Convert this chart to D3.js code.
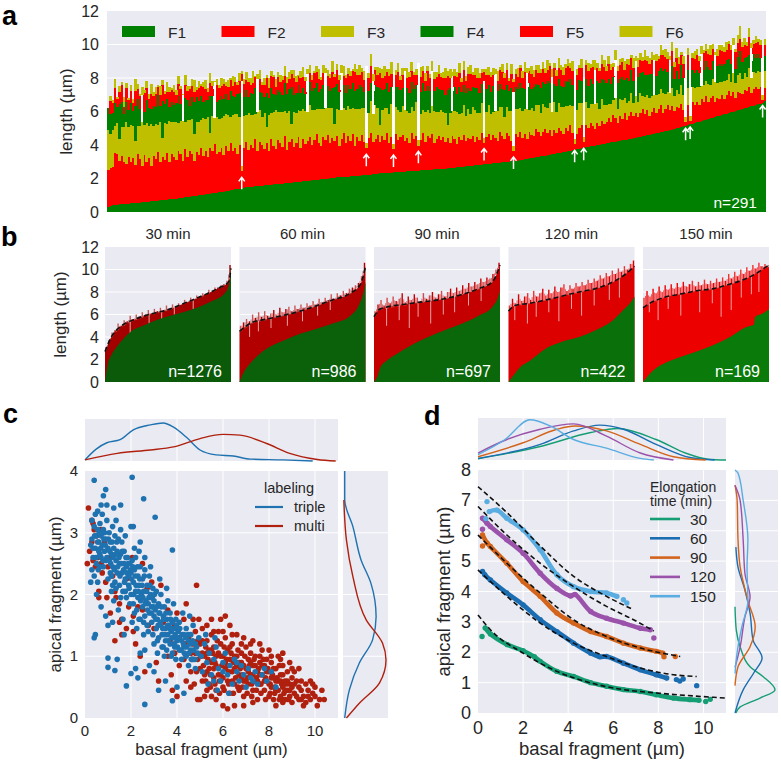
<!DOCTYPE html>
<html><head><meta charset="utf-8">
<script src="https://cdnjs.cloudflare.com/ajax/libs/d3/7.8.5/d3.min.js"></script>
<style>body{margin:0;background:#fff}svg{display:block}text{font-family:"Liberation Sans",Arial,sans-serif;fill:#262626}</style>
</head><body><svg id="fig" width="781" height="760"></svg>
<script>
// ---------- Panel a : fragment lengths (µm) per cell, 291 cells ----------
const aF1=[0.3,0.35,0.4,0.42,0.44,0.45,0.46,0.47,0.48,0.5,0.51,0.52,0.53,0.54,0.55,0.57,0.59,0.6,0.62,0.64,0.65,0.66,0.68,0.7,0.71,0.72,0.74,0.76,0.78,0.79,0.8,0.82,0.84,0.86,0.88,0.9,0.92,0.94,0.96,0.98,1.0,1.02,1.04,1.06,1.08,1.1,1.12,1.14,1.16,1.18,1.2,1.22,1.25,1.27,1.3,1.32,1.35,1.37,1.4,1.42,1.45,1.47,1.49,1.5,1.52,1.53,1.55,1.56,1.58,1.59,1.6,1.62,1.63,1.65,1.66,1.68,1.69,1.7,1.72,1.73,1.75,1.76,1.78,1.79,1.8,1.82,1.83,1.85,1.86,1.88,1.9,1.91,1.93,1.94,1.96,1.97,1.99,2.0,2.02,2.03,2.05,2.06,2.07,2.08,2.09,2.1,2.11,2.12,2.13,2.14,2.15,2.16,2.18,2.19,2.2,2.22,2.23,2.25,2.26,2.28,2.3,2.31,2.32,2.33,2.34,2.35,2.36,2.37,2.38,2.39,2.4,2.41,2.42,2.43,2.44,2.45,2.46,2.47,2.48,2.49,2.5,2.51,2.52,2.53,2.54,2.55,2.56,2.57,2.58,2.59,2.6,2.61,2.63,2.64,2.66,2.67,2.69,2.7,2.72,2.73,2.75,2.76,2.78,2.79,2.81,2.82,2.84,2.85,2.87,2.88,2.9,2.92,2.93,2.95,2.96,2.98,2.99,3.01,3.02,3.04,3.05,3.07,3.1,3.12,3.15,3.17,3.2,3.22,3.25,3.27,3.3,3.32,3.35,3.37,3.4,3.42,3.45,3.47,3.5,3.52,3.55,3.58,3.61,3.64,3.67,3.7,3.73,3.76,3.79,3.82,3.85,3.87,3.9,3.92,3.95,3.97,4.0,4.02,4.05,4.07,4.1,4.12,4.15,4.17,4.2,4.22,4.25,4.27,4.3,4.32,4.35,4.38,4.41,4.44,4.47,4.5,4.53,4.56,4.59,4.62,4.65,4.68,4.71,4.74,4.77,4.8,4.83,4.86,4.89,4.92,4.95,4.99,5.03,5.07,5.11,5.15,5.19,5.23,5.27,5.31,5.35,5.39,5.43,5.47,5.51,5.55,5.59,5.63,5.67,5.71,5.75,5.79,5.83,5.87,5.91,5.95,5.99,6.03,6.07,6.11,6.15,6.19,6.23,6.27,6.31,6.35,6.39,6.43,6.47,6.51,6.6];
const aF2=[2.2,2.3,2.3,3.1,3.0,2.6,2.9,2.5,2.4,2.8,2.5,2.7,2.3,2.9,2.6,2.2,2.8,2.4,2.6,2.1,2.7,2.5,2.9,2.3,2.6,2.4,2.8,2.2,2.7,2.5,2.3,2.8,2.6,2.2,2.9,2.4,2.7,2.5,2.1,2.6,2.4,2.8,2.3,2.6,2.2,2.7,2.5,2.9,2.3,2.4,2.6,2.2,2.7,2.4,2.8,2.3,2.5,2.1,2.6,1.0,2.4,2.7,2.2,2.5,2.3,2.8,2.1,2.6,2.4,2.2,2.5,2.0,2.7,2.3,2.1,2.6,2.4,2.2,2.8,2.0,2.4,2.6,2.1,2.3,2.7,2.0,2.5,2.2,2.4,2.6,2.1,2.4,2.7,2.2,2.0,2.5,2.3,2.6,2.1,2.4,2.2,2.5,1.9,2.3,2.6,2.0,2.4,2.1,2.5,1.8,2.3,2.1,2.4,2.0,1.6,2.2,2.5,1.9,2.1,2.3,1.9,2.2,2.0,2.4,1.8,2.1,1.4,2.3,1.9,2.1,2.2,1.8,2.0,1.7,2.3,1.9,2.1,1.5,1.8,2.2,1.7,2.0,1.9,2.1,1.6,1.8,2.0,1.7,1.9,1.6,1.8,1.5,1.9,1.7,1.4,1.8,1.6,1.9,1.5,1.7,1.6,1.8,1.4,1.7,1.5,1.9,1.3,1.6,1.8,1.4,1.7,1.5,1.3,1.8,1.6,1.4,1.7,1.5,1.2,0.6,1.6,1.4,1.7,1.3,1.5,1.2,1.6,1.4,1.3,1.7,1.5,1.2,1.4,1.6,1.3,1.5,1.1,1.4,1.2,1.5,1.3,1.1,1.4,1.2,1.5,1.0,0.3,0.9,1.2,1.4,0.3,1.3,1.1,1.4,1.2,1.0,1.3,1.1,1.4,1.2,1.3,1.5,1.2,1.6,1.4,1.1,1.5,1.3,1.6,1.2,1.4,1.6,1.3,1.5,1.2,1.4,1.6,1.3,1.5,1.1,1.3,1.5,1.2,1.4,1.6,1.1,1.3,1.5,1.2,1.4,1.1,1.3,1.2,1.4,1.0,0.2,1.2,0.2,1.3,1.1,1.2,1.0,1.3,1.1,1.4,1.0,1.2,1.3,0.9,1.1,1.0,1.2,0.9,1.1,1.3,1.0,1.2,0.8,1.1,1.0,0.9,1.1,1.0,1.2,0.8,1.0,1.1,0.9,1.0,0.2,0.8];
const aF3=[2.4,2.0,2.2,1.6,1.9,1.3,1.7,2.1,2.5,1.8,2.2,1.9,1.4,1.7,2.0,2.6,1.8,2.3,1.9,2.5,1.8,2.1,1.6,2.4,1.1,2.2,1.7,2.5,1.9,2.1,2.3,1.7,2.0,2.4,1.6,2.2,1.9,2.1,1.6,1.8,2.0,1.7,2.3,1.9,2.4,0.9,2.1,1.6,2.2,2.0,1.8,2.3,1.9,2.1,1.6,2.2,2.0,2.4,1.7,0.3,1.9,1.6,2.2,1.8,2.0,1.5,2.3,1.9,1.7,2.1,1.0,2.2,1.6,2.0,2.3,1.7,1.9,2.1,1.5,2.2,1.9,0.9,2.1,1.8,1.6,2.2,1.8,2.0,1.7,1.9,2.1,1.8,1.5,2.0,2.2,1.7,1.9,1.6,2.1,1.8,1.0,1.6,2.1,1.7,1.5,2.0,1.8,1.9,1.6,2.2,1.7,1.9,1.6,2.0,0.3,1.5,1.9,1.7,2.0,1.6,1.0,1.6,1.9,1.5,1.7,2.0,0.3,1.6,1.8,1.5,1.7,1.9,1.6,1.8,1.5,1.7,2.0,0.3,1.6,1.4,1.8,1.6,1.5,1.7,1.9,1.6,1.4,1.8,1.5,1.7,0.8,1.8,1.5,1.7,1.9,1.4,1.6,1.8,1.5,1.7,1.5,1.7,1.9,1.4,1.6,1.8,0.3,1.5,1.7,1.6,1.4,1.6,1.8,1.5,1.7,1.3,1.6,1.5,1.8,0.3,1.5,1.7,1.4,1.6,1.5,1.8,1.3,1.6,1.5,1.4,1.6,1.4,1.7,1.3,1.5,1.6,1.4,1.7,1.3,1.5,1.4,1.6,1.3,1.5,1.2,1.6,0.3,1.4,1.5,1.3,0.3,1.4,1.2,1.1,1.3,1.5,1.2,1.0,1.3,1.1,1.0,0.8,1.1,0.9,1.2,0.8,1.0,1.1,0.9,1.0,0.9,1.1,0.8,1.0,0.9,1.2,0.8,1.0,0.9,1.1,1.0,0.8,1.1,0.9,1.0,1.2,0.9,0.8,1.0,1.1,0.9,1.0,0.8,1.1,0.9,0.3,1.0,0.3,0.9,1.0,0.9,1.1,0.8,1.0,0.9,1.1,0.8,1.0,1.2,0.9,1.0,0.8,1.1,0.9,1.0,0.8,1.1,0.9,1.0,1.2,0.9,1.0,0.8,1.1,0.9,1.0,0.8,1.1,0.9,0.3,1.0];
const aF4=[1.3,1.2,1.0,1.4,0.9,2.1,1.5,0.8,1.2,1.0,1.3,0.9,2.1,1.6,1.0,1.2,0.8,1.4,1.1,0.9,1.2,1.0,1.8,0.9,2.2,1.1,1.5,0.8,1.2,1.0,1.1,1.6,1.0,0.9,1.4,1.2,0.8,1.3,1.9,1.5,1.2,1.4,0.9,1.1,1.0,2.2,1.2,1.7,0.9,1.1,1.3,1.0,1.2,0.9,1.5,1.1,1.0,1.2,1.4,5.1,1.1,1.5,1.0,1.3,1.2,1.6,0.9,1.1,1.4,1.0,2.0,1.0,1.5,1.1,0.9,1.3,1.2,1.0,1.7,1.1,1.3,2.2,1.0,1.2,1.5,1.1,1.3,1.0,1.2,1.4,1.1,1.3,1.6,1.0,1.2,1.4,1.1,1.3,1.0,1.2,2.2,1.5,1.1,1.2,1.4,1.0,1.3,1.2,1.5,1.1,1.2,1.4,1.3,1.0,4.6,1.3,1.1,1.4,1.2,1.3,2.2,1.2,1.1,1.5,1.3,1.0,4.3,1.2,1.4,1.3,1.1,1.3,1.4,1.2,1.5,1.3,1.0,4.6,1.3,1.6,1.2,1.4,1.3,1.1,1.2,1.5,1.4,1.2,1.3,1.1,2.1,1.5,1.2,1.4,1.1,1.6,1.3,1.2,1.4,1.3,1.4,1.2,1.3,1.5,1.2,1.1,3.4,1.4,1.2,1.3,1.5,1.3,1.2,1.4,1.1,1.6,1.3,1.2,1.4,3.2,1.3,1.2,1.5,1.4,1.2,1.3,1.6,1.1,1.4,1.3,1.2,1.5,1.3,1.4,1.6,1.2,1.3,1.1,1.5,1.4,1.3,1.2,1.5,1.4,1.6,1.3,4.1,1.2,1.4,1.3,3.6,1.4,1.3,1.5,1.2,1.4,1.3,1.6,1.2,1.5,1.3,1.5,1.2,1.4,1.3,1.6,1.2,1.4,1.1,1.5,1.2,1.4,1.3,1.1,1.5,1.2,1.4,1.3,1.2,1.4,1.3,1.5,1.1,1.4,1.2,1.3,1.5,1.2,1.4,1.3,1.0,1.1,0.9,1.2,1.0,3.8,1.1,3.5,1.0,0.9,1.0,0.8,1.1,0.9,1.2,1.0,0.9,1.1,0.8,1.0,1.1,0.9,1.0,1.2,0.9,1.1,1.0,0.8,1.1,1.3,1.0,0.9,1.2,0.8,1.0,1.1,0.9,1.0,0.8,2.2,0.9];
const aF5=[0,0.8,0.6,0.9,0.5,0.7,1.0,0.4,0.8,0.6,0.7,0.5,0.9,0.6,0.8,0.4,1.1,0.7,0.5,0.9,0.6,0.8,0.5,0.7,1.0,0.6,0.4,0.9,0.7,0.8,0.5,0.7,0.9,0.6,0.8,0.5,1.0,0.7,0.6,0.4,0.8,0.6,0.9,0.7,0.5,0.8,0.6,0.4,1.0,0.7,0.6,0.9,0.5,0.8,0.7,0.6,0.9,0.5,0.7,0.4,0.8,0.6,0.9,0.5,0.7,0.6,1.1,0.8,0.5,0.7,0.9,0.6,0.7,1.0,0.5,0.8,0.6,0.9,0.4,0.7,0.6,0.8,1.0,0.7,0.5,0.9,0.6,0.8,1.1,0.5,0.7,0.9,0.6,0.8,0.5,0.7,1.0,0.6,0.8,0.9,0.6,0.8,0.7,1.0,0.5,0.9,0.6,0.8,0.7,1.1,0.8,0.6,0.9,0.7,0.0,0.8,1.0,0.6,0.9,0.7,0.9,0.7,0.8,0.6,1.0,0.8,0.0,0.7,0.9,0.6,0.8,1.0,0.6,0.9,0.7,0.8,0.6,0.0,0.9,0.7,0.6,0.9,0.8,1.0,0.7,0.6,0.9,0.8,0.7,1.0,0.8,0.6,0.9,0.7,1.0,0.8,0.6,0.9,0.7,0.8,1.0,0.7,0.8,0.6,0.9,0.7,0.5,0.8,0.6,0.9,0.7,0.9,0.6,0.8,1.0,0.7,0.9,0.6,0.8,0.6,0.8,0.7,0.9,0.6,1.0,0.8,0.7,0.9,0.6,0.8,0.7,0.9,0.8,0.6,0.7,1.0,0.8,0.9,0.6,0.7,0.9,0.7,0.8,1.0,0.6,0.8,0.0,0.9,0.7,0.8,0.0,0.8,0.9,0.7,1.0,0.6,0.8,0.7,0.9,0.8,0.7,0.9,0.8,0.6,1.0,0.7,0.8,0.9,0.6,0.8,0.9,0.7,0.8,1.0,0.6,0.8,0.7,0.9,0.8,0.6,0.8,0.6,0.9,0.7,0.8,1.0,0.7,0.8,0.6,0.9,0.7,0.8,0.9,0.6,0.8,0.0,0.9,0.0,0.7,0.8,0.9,0.7,0.8,1.0,0.6,0.8,0.9,0.7,0.8,0.6,0.8,0.9,0.7,0.6,0.9,0.8,0.7,1.0,0.8,0.7,0.9,0.8,0.7,1.1,0.8,0.6,0.9,0.7,0.8,0.0,0.7];
const aF6=[0,0.3,0.2,0.5,0.1,0.4,0.2,0.6,0.3,0.1,0.4,0.2,0.7,0.3,0.1,0.5,0.2,0.4,0.3,0.6,0.2,0.4,0.1,0.5,0.3,0.2,0.6,0.3,0.1,0.4,0.3,0.5,0.2,0.1,0.6,0.3,0.2,0.4,0.7,0.2,0.4,0.1,0.3,0.5,0.2,0.6,0.3,0.1,0.4,0.2,0.5,0.3,0.2,0.4,0.1,0.6,0.3,0.2,0.5,0.2,0.3,0.5,0.2,0.4,0.7,0.1,0.3,0.5,0.2,0.4,0.2,0.6,0.3,0.1,0.5,0.3,0.4,0.2,0.6,0.3,0.4,0.2,0.5,0.3,0.1,0.4,0.6,0.2,0.3,0.5,0.3,0.1,0.4,0.6,0.2,0.5,0.3,0.4,0.2,0.7,0.2,0.4,0.3,0.5,0.6,0.2,0.4,0.3,0.1,0.5,0.4,0.6,0.2,0.5,0.0,0.3,0.7,0.4,0.2,0.5,0.3,0.5,0.6,0.2,0.4,0.7,0.0,0.3,0.5,0.2,0.4,0.2,0.6,0.3,0.5,0.2,0.4,0.0,0.6,0.3,0.5,0.3,0.2,0.6,0.4,0.3,0.5,0.2,0.4,0.6,0.3,0.5,0.2,0.4,0.3,0.6,0.2,0.5,0.3,0.4,0.5,0.2,0.4,0.6,0.3,0.2,0.2,0.4,0.5,0.3,0.4,0.3,0.6,0.2,0.5,0.3,0.4,0.2,0.6,0.2,0.3,0.5,0.2,0.4,0.6,0.3,0.2,0.5,0.4,0.3,0.5,0.2,0.4,0.3,0.6,0.2,0.5,0.3,0.4,0.6,0.3,0.5,0.2,0.4,0.3,0.6,0.0,0.4,0.2,0.5,0.0,0.3,0.5,0.2,0.4,0.6,0.3,0.2,0.5,0.4,0.3,0.5,0.4,0.2,0.6,0.3,0.4,0.2,0.5,0.3,0.4,0.2,0.6,0.3,0.5,0.4,0.2,0.6,0.3,0.4,0.5,0.3,0.4,0.2,0.6,0.3,0.5,0.4,0.2,0.5,0.3,0.6,0.4,0.2,0.5,0.0,0.4,0.0,0.3,0.5,0.4,0.3,0.5,0.2,0.4,0.3,0.6,0.3,0.2,0.4,0.3,0.4,0.3,0.5,0.2,0.3,0.4,0.2,0.5,0.8,0.3,0.4,0.2,0.5,0.3,0.2,0.4,0.2,0.3,0.0,0.3];
const aArrowCells=[59,114,126,137,166,179,206,210,255,257,289];
const aBlankCells=[15,33,47,66,88,96,103,117,131,143,152,171,185,196,215,224,233,241,248,262,268,276,284];
const aNames=["F1","F2","F3","F4","F5","F6"];
const aTicks=[0,2,4,6,8,10,12];

// ---------- Panel b : sorted cells per elongation time ----------
const bTitles=["30 min","60 min","90 min","120 min","150 min"];
const bCounts=[1276,986,697,422,169];
const bGreen30=[[0,0],[0.02,1.5],[0.05,2.4],[0.09,3.1],[0.15,3.9],[0.22,4.6],[0.3,5.0],[0.36,5.3],[0.49,5.8],[0.62,6.2],[0.75,6.7],[0.85,7.2],[0.89,7.4],[0.95,7.9],[0.97,8.2],[0.99,9.0],[1,10.2]];
const bGreen60=[[0,0],[0.03,0.8],[0.08,1.6],[0.15,2.4],[0.22,3.0],[0.35,3.7],[0.48,4.3],[0.6,4.7],[0.74,5.2],[0.88,5.9],[0.95,6.9],[0.98,7.8],[1,8.9]];
const bGreen90=[[0,0],[0.03,0.6],[0.05,1.3],[0.1,1.9],[0.18,2.5],[0.3,3.3],[0.43,4.0],[0.56,4.6],[0.7,5.2],[0.83,5.9],[0.94,6.7],[0.98,7.4],[1,8.1]];
const bGreen120=[[0,0],[0.04,0.6],[0.09,1.3],[0.17,1.9],[0.3,3.0],[0.43,3.6],[0.56,4.0],[0.69,4.6],[0.83,5.5],[0.91,6.4],[0.97,7.1],[1,7.6]];
const bGreen150=[[0,0],[0.05,0.7],[0.11,1.3],[0.16,1.6],[0.29,2.2],[0.42,2.7],[0.56,3.3],[0.69,4.0],[0.82,4.9],[0.88,5.1],[0.89,5.8],[0.95,6.1],[1,6.5]];
const bRed30=[3.1,3.7,4.4,4.6,5.2,5.0,5.5,5.4,5.9,5.6,6.0,5.8,6.2,6.0,6.4,6.1,6.5,6.3,6.6,6.4,6.8,6.5,6.9,6.7,7.0,6.9,7.3,7.1,7.5,7.3,7.7,7.6,7.9,7.8,8.2,8.0,8.4,8.4,8.6,8.7,9.0,10.4];
const bRed60=[5.0,5.3,5.6,5.4,6.0,5.7,6.2,5.8,6.3,5.9,6.1,6.4,6.0,6.6,6.2,6.5,6.7,6.3,6.8,6.5,6.9,6.6,7.0,6.8,7.2,6.9,7.4,7.1,7.5,7.3,7.8,7.4,7.9,7.7,8.1,7.9,8.3,8.4,8.6,8.8,9.4,10.6];
const bRed90=[6.3,6.9,7.3,6.8,7.5,7.0,7.6,7.2,7.4,7.9,7.1,7.6,7.3,7.8,7.5,7.2,7.9,7.4,7.7,8.0,7.5,7.8,8.1,7.6,8.0,8.3,7.9,8.4,8.1,8.6,8.3,8.8,8.5,8.9,8.7,9.2,8.9,9.3,9.2,9.6,10.0,10.6];
const bRed120=[6.8,7.4,7.0,7.8,7.2,7.6,7.9,7.3,8.1,7.6,7.9,8.3,7.7,8.2,7.9,8.5,8.0,8.4,8.7,8.1,8.6,8.3,8.8,8.5,8.9,8.6,9.1,8.8,9.2,9.0,9.5,9.2,9.7,9.4,9.9,9.6,10.1,9.8,10.3,10.0,10.5,10.8];
const bRed150=[7.5,8.1,7.6,8.3,7.9,8.5,8.0,8.6,8.2,8.7,8.3,8.8,8.4,8.9,8.5,8.7,9.0,8.5,8.9,8.6,9.1,8.7,9.0,8.8,9.2,8.9,9.3,9.0,9.6,9.2,9.8,9.4,10.0,9.6,10.2,9.9,10.4,10.1,10.6,10.3,10.5,10.2];
const bMean30=[[0,2.7],[0.05,4.0],[0.12,4.9],[0.22,5.5],[0.35,6.0],[0.49,6.4],[0.65,7.1],[0.81,7.85],[0.91,8.4],[0.98,8.9],[1,10.1]];
const bMean60=[[0,4.5],[0.1,5.3],[0.22,5.6],[0.48,6.3],[0.74,7.3],[0.88,7.9],[0.96,8.7],[1,10.3]];
const bMean90=[[0,5.8],[0.05,6.5],[0.3,7.0],[0.56,7.4],[0.83,8.3],[0.94,8.9],[1,10.4]];
const bMean120=[[0,6.3],[0.05,6.8],[0.17,7.0],[0.3,7.3],[0.56,8.0],[0.69,8.3],[0.83,8.9],[0.93,9.6],[1,10.3]];
const bMean150=[[0,6.6],[0.04,6.9],[0.16,7.5],[0.29,7.8],[0.42,8.1],[0.56,8.3],[0.69,8.7],[0.82,9.2],[0.92,9.8],[1,10.4]];
const bShort30=[[0.2,4.2],[0.35,5.2],[0.45,5.3],[0.55,6.0],[0.7,6.5]];
const bShort60=[[0.08,4.0],[0.15,4.5],[0.25,4.8],[0.38,5.0],[0.5,5.4],[0.62,5.9],[0.72,6.4]];
const bShort90=[[0.1,5.0],[0.2,5.5],[0.28,4.8],[0.35,5.8],[0.45,5.2],[0.55,6.0],[0.64,6.2],[0.75,6.8],[0.85,7.2]];
const bShort120=[[0.05,5.5],[0.15,5.2],[0.22,5.8],[0.32,6.2],[0.4,5.4],[0.5,6.5],[0.58,5.9],[0.68,6.8],[0.8,7.3],[0.88,7.5]];
const bShort150=[[0.05,6.2],[0.12,5.5],[0.2,6.5],[0.3,5.9],[0.45,6.2],[0.55,7.0],[0.62,5.8],[0.7,6.4],[0.78,7.5],[0.86,7.8],[0.92,8.0]];

// ---------- Panel c : basal vs apical fragment ----------
const cTriple=[[0.3,2.9],[0.35,2.6],[0.4,3.1],[0.45,2.75],[0.5,2.95],[0.5,2.5],[0.55,3.05],[0.6,2.7],[0.6,2.85],[0.65,3.15],[0.7,2.6],[0.7,2.95],[0.75,2.8],[0.8,2.45],[0.8,3.05],[0.85,2.7],[0.9,2.9],[0.9,2.55],[0.95,3.2],[1.0,2.75],[0.4,2.3],[0.3,2.4],[0.55,2.2],[0.65,2.45],[0.25,2.8],[0.45,3.3],[0.75,3.3],[0.85,3.0],
[1.05,2.55],[1.1,2.85],[1.1,2.35],[1.15,2.65],[1.2,3.1],[1.2,2.45],[1.25,2.75],[1.3,2.2],[1.3,2.95],[1.35,2.55],[1.4,2.35],[1.4,2.7],[1.45,2.9],[1.5,2.5],[1.5,2.15],[1.55,2.65],[1.6,2.35],[1.6,2.85],[1.65,2.05],[1.7,2.5],[1.7,2.7],[1.75,2.25],[1.8,2.45],[1.8,1.95],[1.85,2.6],[1.9,2.3],[1.9,2.15],[1.95,2.5],[2.0,2.0],[2.0,2.35],[1.15,2.05],[1.25,1.9],[1.45,1.75],[1.35,3.2],[1.55,3.05],[1.05,3.0],[1.75,2.95],[1.65,1.6],
[2.05,2.55],[2.1,2.2],[2.1,1.85],[2.15,2.4],[2.2,2.05],[2.2,2.6],[2.25,1.75],[2.3,2.3],[2.3,1.95],[2.35,2.15],[2.4,2.45],[2.4,1.6],[2.45,2.0],[2.5,2.25],[2.5,1.8],[2.55,2.05],[2.6,2.4],[2.6,1.65],[2.65,1.9],[2.7,2.15],[2.7,1.5],[2.75,1.85],[2.8,2.3],[2.8,1.7],[2.85,2.0],[2.9,1.55],[2.9,1.8],[2.95,2.1],[3.0,1.65],[3.0,1.9],[2.15,2.75],[2.35,2.7],[2.6,2.6],[2.85,2.45],[2.25,1.45],[2.55,1.35],[2.05,1.55],
[3.05,1.75],[3.1,1.45],[3.1,2.05],[3.15,1.6],[3.2,1.85],[3.2,1.3],[3.25,1.7],[3.3,1.5],[3.3,2.0],[3.35,1.35],[3.4,1.65],[3.4,1.15],[3.45,1.8],[3.5,1.45],[3.5,1.25],[3.55,1.6],[3.6,1.35],[3.6,1.9],[3.65,1.5],[3.7,1.2],[3.7,1.7],[3.75,1.4],[3.8,1.55],[3.8,1.05],[3.85,1.3],[3.9,1.45],[3.9,1.15],[3.95,1.6],[4.0,1.25],[3.25,2.25],[3.55,2.1],[3.85,1.85],[3.45,1.0],[3.15,1.05],
[4.05,1.4],[4.1,1.1],[4.1,1.55],[4.2,1.25],[4.2,0.95],[4.3,1.35],[4.3,1.15],[4.4,1.45],[4.4,1.0],[4.5,1.25],[4.5,0.85],[4.6,1.35],[4.6,1.1],[4.7,0.95],[4.7,1.5],[4.8,1.2],[4.8,0.8],[4.9,1.05],[4.95,1.3],[4.25,1.7],[4.55,1.65],
[5.05,1.0],[5.1,0.75],[5.2,1.2],[5.3,0.9],[5.4,1.05],[5.5,0.7],[5.6,0.95],[5.7,1.15],[5.8,0.8],[5.9,0.6],[6.0,0.9],[6.1,1.05],[6.2,0.7],[6.3,0.85],[6.4,0.55],[6.5,0.95],[6.6,0.75],[6.7,0.6],[6.8,0.85],[6.9,0.7],[7.0,0.5],[7.1,0.8],[7.2,0.65],[7.4,0.75],[7.5,0.55],[7.7,0.7],[7.9,0.6],[8.1,0.75],[8.3,0.5],[5.35,0.55],[5.75,0.45],[6.25,0.4],[5.25,1.35],[5.65,1.3],
[0.4,3.85],[0.9,3.7],[0.8,3.6],[0.7,3.45],[2.05,3.9],[2.55,3.55],[1.55,3.45],[3.05,3.25],[2.0,3.1],[2.1,3.1],[3.8,2.72],[2.4,2.85],[0.45,1.35],[0.4,1.3],[1.0,0.97],[1.0,0.82],[1.4,0.95],[1.3,0.77],[1.8,0.52],[2.6,0.22],[3.8,0.28],[2.3,0.65],[2.0,0.72],[2.2,0.8],[3.0,0.75],[3.2,0.45],[2.4,1.05],[1.7,1.35],[1.2,1.55],[0.7,1.8],[0.5,2.0],[1.0,1.5],[2.8,0.85],[3.5,0.6],[4.0,0.5],[4.3,0.4],[3.0,1.2],[2.6,1.1],[0.25,2.2],[0.9,1.65],
[0.55,2.85],[0.65,2.65],[0.72,3.0],[0.78,2.55],[0.88,2.8],[0.95,2.6],[1.02,2.9],[1.08,2.7],[1.12,2.5],[1.18,2.85],[1.22,2.6],[1.28,2.4],[1.32,2.65],[1.38,2.85],[1.42,2.45],[1.48,2.6],[1.52,2.3],[1.58,2.5],[1.62,2.7],[1.68,2.4],[1.72,2.2],[1.78,2.6],[1.82,2.35],[1.88,2.5],[1.92,2.1],[1.98,2.4],[2.02,2.25],[2.08,2.45],[2.12,2.0],[2.18,2.3],[2.22,2.15],[2.28,2.45],[2.32,2.05],[2.38,2.25],[2.42,1.9],[2.48,2.15],[2.52,1.95],[2.58,2.3],[2.62,1.85],[2.68,2.05],[2.72,1.75],[2.78,1.95],[2.82,2.15],[2.88,1.7],[2.92,1.95],[2.98,1.8],[3.02,2.0],[3.08,1.6],[3.12,1.8],[3.18,1.5],[3.22,1.7],[3.28,1.55],[3.32,1.8],[3.38,1.45],[3.42,1.6],[3.48,1.35],[3.52,1.7],[3.58,1.5],[3.62,1.25],[3.68,1.45],[3.72,1.6],[3.78,1.3],[3.82,1.45],[3.88,1.2],[3.92,1.35],[3.98,1.5],[4.02,1.15],[4.08,1.3],[4.12,1.45],[4.18,1.1],[4.22,1.35],[4.28,1.2],[4.32,1.05],[4.38,1.3],[4.42,1.15],[4.48,1.35],[4.52,1.05],[4.58,1.2],[4.62,0.95],[4.68,1.25],[4.72,1.1],[4.78,0.95],[4.85,1.15],[0.35,2.75],[0.42,2.95],[0.48,2.6],[0.58,2.4],[0.62,3.0],[0.68,2.75],[0.82,2.9],[1.15,2.3],[1.35,2.1],[1.55,1.95],[1.75,2.05],[1.95,1.85],[2.15,1.7],[2.35,1.6],[2.55,1.55],[2.75,1.4],[2.95,1.35],[3.15,1.25],[3.35,1.15],[3.55,1.1],[3.75,1.0],[3.95,0.95],[1.0,2.25],[1.2,2.15],[0.3,3.2],[0.55,3.35],[0.95,3.45],[1.25,3.4],[5.6,0.6],[6.0,0.75],[6.6,0.9],[7.3,0.6],[7.8,0.8]];
const cMulti=[[0.15,3.4],[0.3,3.2],[0.35,3.15],[0.1,2.5],[0.2,2.7],[0.3,2.85],[0.35,2.55],[0.45,2.45],[0.5,2.95],[0.55,2.6],[0.7,2.5],[0.7,3.05],[0.75,2.35],[0.9,2.2],[0.6,1.95],[0.95,1.95],[0.4,3.05],[0.85,2.85],[1.0,2.45],[1.2,2.3],[1.3,2.05],[1.35,1.95],[1.5,1.85],[1.5,1.55],[1.6,1.6],[1.8,2.25],[1.9,1.8],[2.05,2.6],[2.1,1.65],[2.3,1.8],[2.5,2.5],[2.5,1.75],[2.7,2.1],[2.75,1.5],[2.9,2.2],[3.0,1.45],[3.3,2.15],[3.4,1.55],[3.6,1.75],[3.7,1.25],[3.9,1.05],[4.1,1.3],[4.3,1.6],[4.35,1.2],[4.4,1.85],[4.6,1.05],[4.8,1.4],[4.85,2.15],[4.9,0.95],[1.1,1.7],[1.6,1.35],[1.8,1.45],[2.2,1.2],[2.4,1.0],[2.6,0.75],[3.1,0.9],[3.2,0.6],[3.6,1.0],[3.75,0.7],[2.1,1.4],[1.3,1.25],[0.6,2.05],[1.1,2.6],[2.9,1.95],[3.9,1.5],[4.0,1.7],
[5.0,1.2],[5.0,0.8],[5.1,1.45],[5.1,0.6],[5.2,1.0],[5.2,0.35],[5.3,1.25],[5.3,0.75],[5.4,0.55],[5.4,1.1],[5.5,0.9],[5.5,1.35],[5.6,0.65],[5.6,1.15],[5.7,0.45],[5.7,0.85],[5.8,1.05],[5.8,1.4],[5.9,0.7],[5.9,1.2],[6.0,0.5],[6.0,1.0],[6.1,0.8],[6.1,1.3],[6.2,0.6],[6.2,1.1],[6.3,0.95],[6.3,0.4],[6.4,0.75],[6.4,1.2],[6.5,0.55],[6.5,1.0],[6.6,0.85],[6.6,1.35],[6.7,0.45],[6.7,0.7],[6.8,1.05],[6.8,0.9],[6.9,0.6],[6.9,0.35],[7.0,0.8],[7.0,1.15],[7.1,0.55],[7.1,0.95],[7.2,0.7],[7.2,1.05],[7.3,0.45],[7.3,0.85],[7.4,0.6],[7.4,1.0],[7.5,0.75],[7.5,0.3],[7.6,0.9],[7.6,0.55],[7.7,0.7],[7.7,1.1],[7.8,0.45],[7.8,0.85],[7.9,0.6],[7.9,0.95],[8.0,0.35],[8.0,0.75],[8.1,0.5],[8.1,0.9],[8.2,0.65],[8.2,0.3],[8.3,0.8],[8.3,0.45],[8.4,0.6],[8.4,1.0],[8.5,0.35],[8.5,0.7],[8.6,0.5],[8.6,0.85],[8.7,0.3],[8.7,0.6],[8.8,0.45],[8.8,0.75],[8.9,0.35],[8.9,0.55],[9.0,0.5],[9.0,0.25],[9.1,0.4],[9.2,0.6],[9.3,0.3],[9.4,0.45],[9.5,0.35],[9.6,0.25],[9.7,0.45],[9.8,0.3],[10.1,0.2],[10.0,0.5],[10.3,0.45],[9.9,0.55],[9.5,0.2],
[5.05,1.0],[5.15,0.85],[5.25,1.15],[5.35,0.95],[5.45,0.7],[5.55,1.05],[5.65,0.9],[5.75,1.25],[5.85,0.6],[5.95,0.85],[6.05,1.15],[6.15,0.95],[6.25,0.75],[6.35,1.05],[6.45,0.9],[6.55,0.65],[6.65,1.1],[6.75,0.8],[6.85,0.5],[6.95,1.0],[7.05,0.65],[7.15,0.85],[7.25,0.55],[7.35,0.95],[7.45,0.65],[7.55,0.8],[7.65,0.4],[7.75,0.95],[7.85,0.65],[7.95,0.8],[8.05,0.55],[8.15,0.7],[8.25,0.5],[8.35,0.65],[8.45,0.85],[8.55,0.55],[8.65,0.4],[8.75,0.55],[4.5,1.3],[4.6,0.75],[4.7,1.6],[4.75,0.55],[4.8,1.05],[4.95,1.6],[5.5,1.6],[5.9,1.6],[6.3,1.5],[6.1,1.65],[5.3,1.5],[6.9,1.3],[7.3,1.25],[7.6,1.2],[8.0,1.1],[8.5,0.95],[8.9,0.9],[9.1,0.75],[5.0,0.3],[5.7,0.3],[6.0,0.2],[6.2,0.15],[6.5,0.2],[6.9,0.2],[7.3,0.25],[8.3,0.2],[8.6,0.25],[4.9,0.3],[4.6,0.5],[5.3,0.45],[5.5,0.35],[9.3,0.8],[9.6,0.55],[10.2,0.3],[4.1,0.85],[4.3,0.95],[4.4,0.6],[3.8,0.45],[4.0,0.35],
[5.1,1.05],[5.2,0.7],[5.3,1.05],[5.4,0.8],[5.5,1.1],[5.6,0.8],[5.7,1.0],[5.8,0.7],[5.9,1.0],[6.0,0.65],[6.1,0.9],[6.2,0.85],[6.3,1.15],[6.4,0.6],[6.5,0.8],[6.6,1.0],[6.7,0.9],[6.8,0.65],[6.9,0.85],[7.0,0.6],[7.1,0.75],[7.2,0.9],[7.3,0.7],[7.4,0.85],[7.5,0.6],[7.6,0.7],[7.7,0.85],[7.8,0.6],[7.9,0.75],[8.0,0.55],[8.1,0.65],[8.2,0.8],[8.3,0.6],[8.4,0.45],[8.5,0.6],[8.6,0.7],[8.7,0.45],[8.8,0.6],[8.9,0.45],[9.0,0.65],[9.1,0.55],[9.2,0.35],[9.3,0.5],[9.4,0.3],[9.7,0.35],[9.9,0.4],[5.25,0.6],[5.45,0.5],[5.65,0.55],[5.85,0.4],[6.05,0.45],[6.25,0.55],[6.45,0.4],[6.65,0.5],[6.85,0.7],[7.05,0.4],[7.25,0.35],[7.45,0.45],[7.65,0.55],[7.85,0.3],[8.05,0.4],[8.25,0.4],[8.45,0.3],[8.65,0.3],[8.85,0.3],[4.7,1.2],[4.9,1.25],[5.1,1.25],[4.65,0.95],[4.85,0.75],[5.6,1.4],[6.0,1.4],[6.4,1.35],[6.8,1.2],[7.2,1.2],[7.6,1.0],[8.1,1.0],[8.6,1.05],[9.0,0.8],[9.4,0.6],[9.8,0.6],[10.0,0.35],[10.4,0.3]];
const cTopTriple=[[0,0.03],[0.5,0.32],[0.95,0.48],[1.53,0.56],[2.1,0.82],[2.84,0.95],[3.4,1.0],[3.85,0.89],[4.4,0.63],[5.0,0.29],[5.7,0.16],[6.45,0.13],[7.2,0.05],[8.6,0.03],[9.9,0]];
const cTopMulti=[[0,0.03],[1.4,0.2],[2.84,0.29],[3.85,0.37],[5.0,0.59],[6.0,0.7],[6.74,0.68],[7.9,0.46],[8.9,0.2],[10.1,0.04],[10.9,0]];
const cSideTriple=[[0,0.04],[0.46,0.15],[0.89,0.38],[1.27,0.69],[1.64,0.77],[2.18,0.65],[2.56,0.42],[3.1,0.23],[3.53,0.04],[4.0,0.04]];
const cSideMulti=[[0,0.08],[0.24,0.38],[0.57,0.85],[0.94,1.0],[1.21,0.92],[1.59,0.54],[2.29,0.23],[2.88,0.08],[3.53,0.02]];
const cLabels=["triple","multi"];

// ---------- Panel d : apical vs basal per elongation time ----------
const dTimes=["30","60","90","120","150"];
const dLine30=[[0.32,2.8],[0.55,2.6],[1.3,2.25],[2.0,2.05],[2.5,1.85],[2.76,1.7],[3.5,1.37],[4.24,1.2],[5.0,1.0],[5.7,0.88],[6.45,0.77],[7.2,0.71],[7.9,0.6],[8.67,0.49],[9.4,0.44],[9.8,0.42]];
const dLine60=[[0.2,4.66],[0.3,4.55],[0.55,4.38],[1.28,3.95],[2.0,3.56],[2.76,3.07],[3.5,2.68],[4.24,2.3],[5.0,1.97],[5.4,1.85],[5.7,1.86],[6.45,1.64],[7.2,1.42],[7.9,1.26],[8.37,1.15]];
const dLine90=[[0.2,5.86],[0.4,5.6],[0.55,5.48],[1.28,4.93],[2.0,4.33],[2.76,3.84],[3.5,3.29],[4.24,2.96],[5.0,2.68],[5.7,2.52],[6.45,2.3],[7.2,2.14],[7.9,2.03],[8.2,1.97]];
const dLine120=[[0.2,6.41],[0.4,6.25],[0.55,6.14],[1.28,5.7],[2.0,5.26],[2.76,4.6],[3.5,4.1],[4.1,3.85],[4.3,3.9],[5.0,3.34],[5.7,3.12],[6.45,2.96],[7.2,2.79],[7.64,2.74]];
const dLine150=[[0.5,6.63],[0.84,6.68],[1.28,6.41],[2.0,6.03],[2.76,5.37],[3.5,4.55],[4.24,4.16],[5.0,4.0],[5.7,3.95],[6.16,3.84]];
const dOut30=[[0.18,2.52],[10.1,0.38],[10.3,0.45]];
const dOut60=[[8.8,1.1],[8.95,1.05],[9.1,1.12],[9.7,0.9]];
const dOut90=[[0.2,5.5],[8.25,1.85],[8.75,1.86]];
const dOut120=[[0.2,6.05],[7.8,2.47]];
const dOut150=[[0.4,6.96],[0.35,6.4],[6.45,3.73],[6.6,3.62]];
const dFit30=[[0,3.23],[0.55,2.74],[2.0,1.97],[3.5,1.37],[5,0.99],[6.45,0.77],[7.9,0.66],[11,0.49]];
const dFit60=[[0,4.71],[1.28,3.84],[2.76,2.96],[4.24,2.3],[5.7,1.86],[7.2,1.48],[8.67,1.26],[9.7,1.2]];
const dFit90=[[0,5.86],[1.28,4.93],[2.76,3.95],[4.24,3.07],[5.7,2.52],[7.2,2.14],[8.97,1.86]];
const dFit120=[[0,6.8],[1.28,5.86],[2.76,4.93],[4.24,4.16],[5.7,3.51],[6.9,3.07],[7.8,2.7]];
const dFit150=[[0,7.45],[1.28,6.6],[2.76,5.5],[4.24,4.5],[5.7,3.84],[6.9,3.4]];
const dTop30=[[0,0.03],[2.76,0.33],[5.0,0.67],[6.2,0.77],[7.9,0.5],[9.2,0.17],[10.2,0.02],[11,0]];
const dTop60=[[0,0.04],[2.76,0.38],[4.24,0.71],[5.4,0.85],[6.45,0.75],[7.9,0.38],[9.4,0.06],[10.5,0]];
const dTop90=[[0,0.08],[2.0,0.42],[3.5,0.75],[4.3,0.83],[5.7,0.71],[7.2,0.38],[8.67,0.08],[10.1,0]];
const dTop120=[[0,0.17],[1.28,0.5],[2.76,0.75],[4.24,0.88],[5.7,0.58],[7.2,0.17],[8.67,0]];
const dTop150=[[0,0.13],[1.2,0.5],[2.3,0.98],[3.2,0.83],[4.24,0.5],[5.7,0.29],[7.2,0.04],[7.8,0]];
const dSide30=[[0,0.02],[0.2,0.12],[0.49,0.58],[0.76,0.93],[1.2,0.65],[1.52,0.35],[2.18,0.12],[2.73,0.03],[3.5,0]];
const dSide60=[[0,0],[0.76,0.19],[1.35,0.45],[1.81,0.63],[2.4,0.42],[3.29,0.35],[4.05,0.23],[4.8,0.07],[5.46,0.02]];
const dSide90=[[0.9,0],[1.52,0.07],[2.18,0.35],[2.84,0.47],[3.7,0.3],[4.8,0.12],[5.7,0.07],[7.0,0.05],[7.5,0]];
const dSide120=[[1.5,0],[2.18,0.12],[3.16,0.23],[3.82,0.35],[4.6,0.23],[5.7,0.19],[7.0,0.12],[7.5,0]];
const dSide150=[[1.3,0],[2.0,0.05],[2.84,0.16],[3.7,0.3],[4.8,0.28],[5.7,0.3],[7.0,0.19],[7.9,0.07],[8,0]];

// ====================== drawing ======================
const svg=d3.select("#fig");
const BG="#eaeaf2";
function bg(x0,y0,x1,y1){svg.append("rect").attr("x",x0).attr("y",y0).attr("width",x1-x0).attr("height",y1-y0).attr("fill",BG);}
function hgrid(y,vals,x0,x1){vals.forEach(v=>svg.append("line").attr("x1",x0).attr("x2",x1).attr("y1",y(v)).attr("y2",y(v)).attr("stroke","#fff").attr("stroke-width",1));}
function vgrid(x,vals,y0,y1){vals.forEach(v=>svg.append("line").attr("y1",y0).attr("y2",y1).attr("x1",x(v)).attr("x2",x(v)).attr("stroke","#fff").attr("stroke-width",1));}
function txt(x,y,s,size,anchor,extra){const t=svg.append("text").attr("x",x).attr("y",y).attr("font-size",size).attr("text-anchor",anchor||"start").text(s);if(extra)extra(t);return t;}
function letter(x,y,s){txt(x,y,s,27,"start",t=>t.attr("font-weight","bold").style("fill","#000"));}

// ---- Panel a ----
const aX=d3.scaleBand().domain(d3.range(aF1.length)).range([107,766]);
const aY=d3.scaleLinear().domain([0,12]).range([212,11]);
bg(107,11,766,212);
hgrid(aY,[2,4,6,8,10],107,766);
const aRows=aF1.map((v,i)=>({F1:v,F2:aF2[i],F3:aF3[i],F4:aF4[i],F5:aF5[i],F6:aF6[i]}));
const aStack=d3.stack().keys(aNames)(aRows);
const aCols=["#008000","#ff0000","#bfbf00","#008000","#ff0000","#bfbf00"];
const blank=new Set(aArrowCells.map(i=>i+":3").concat(aBlankCells.map(i=>i+":3"),aBlankCells.map(i=>i+":4")));
const gA=svg.append("g").attr("shape-rendering","crispEdges");
aStack.forEach((layer,li)=>{
  gA.selectAll(null).data(layer).join("rect")
    .attr("x",(d,i)=>aX(i)).attr("width",aX.bandwidth()+0.3)
    .attr("y",d=>aY(d[1])).attr("height",d=>Math.max(0,aY(d[0])-aY(d[1])))
    .attr("fill",(d,i)=>blank.has(i+":"+li)?"#ffffff":aCols[li]);
});
aArrowCells.forEach(i=>{
  const x=aX(i)+aX.bandwidth()/2, yt=aY(aF1[i]+aF2[i]-0.35);
  svg.append("path").attr("d",`M${x},${yt+12}L${x},${yt}M${x-3},${yt+4}L${x},${yt}L${x+3},${yt+4}`)
    .attr("stroke","#fff").attr("stroke-width",1.5).attr("fill","none");
});
aTicks.forEach(v=>txt(99,aY(v)+5.5,v,16,"end"));
txt(0,0,"length (µm)",17,"middle",t=>t.attr("transform",`translate(72,${aY(6)}) rotate(-90)`));
aNames.forEach((nm,k)=>{
  const x=122+k*99.5;
  svg.append("rect").attr("x",x).attr("y",26).attr("width",33).attr("height",11).attr("fill",aCols[k]);
  txt(x+46,37.5,nm,15.5,"start");
});
txt(757,208,"n="+aF1.length,15.5,"end",t=>t.style("fill","#fff"));
letter(2,25,"a");

// ---- Panel b ----
const bY=d3.scaleLinear().domain([0,12]).range([382,247]);
const bGreens=[bGreen30,bGreen60,bGreen90,bGreen120,bGreen150];
const bReds=[bRed30,bRed60,bRed90,bRed120,bRed150];
const bMeans=[bMean30,bMean60,bMean90,bMean120,bMean150];
const bShorts=[bShort30,bShort60,bShort90,bShort120,bShort150];
const bGreenCol=["#0a5a0a","#0a610a","#0a680a","#0a700a","#0a7a0a"];
const bRedCol=["#a50000","#b20000","#c40000","#dc0000","#ec0000"];
const bFuzzCol=["#c85858","#cc5656","#d44a4a","#ee3434","#f52e2e"];
bTitles.forEach((title,p)=>{
  const x0=105+p*134.5, x1=x0+126;
  bg(x0,247,x1,382);
  hgrid(bY,[2,4,6,8,10],x0,x1);
  const reds=bReds[p], mean=bMeans[p];
  const bx=d3.scaleLinear().domain([0,1]).range([x0,x1]);
  const meanAt=d3.scaleLinear().domain(mean.map(d=>d[0])).range(mean.map(d=>d[1]));
  const pos=d3.scalePoint().domain(d3.range(reds.length)).range([x0+1,x1-1]);
  svg.append("path").datum(mean).attr("fill",bRedCol[p])
    .attr("d",d3.area().x(d=>bx(d[0])).y0(382).y1(d=>bY(d[1])).curve(d3.curveMonotoneX));
  reds.forEach((v,k)=>{
    const f=(pos(k)-x0)/126, m=meanAt(f);
    svg.append("line").attr("x1",pos(k)).attr("x2",pos(k)).attr("y1",bY(Math.max(v,m))).attr("y2",bY(Math.min(v,m))+(v>m?1:0))
      .attr("stroke",v>m?(k%2?bRedCol[p]:bFuzzCol[p]):"#f0c4c4").attr("stroke-width",1.4);
    if(k<reds.length-1){const xm=(pos(k)+pos(k+1))/2, vm=(v+reds[k+1])/2-0.15, mm=meanAt((xm-x0)/126);
      if(vm>mm) svg.append("line").attr("x1",xm).attr("x2",xm).attr("y1",bY(vm)).attr("y2",bY(mm)+1).attr("stroke",bFuzzCol[p]).attr("stroke-width",0.8);}
  });
  bShorts[p].forEach(([f,v])=>{
    svg.append("line").attr("x1",bx(f)).attr("x2",bx(f)).attr("y1",bY(v)).attr("y2",bY(meanAt(f)))
      .attr("stroke","#f5caca").attr("stroke-width",0.9).attr("opacity",0.9);
  });
  svg.append("path").datum(bGreens[p]).attr("fill",bGreenCol[p])
    .attr("d",d3.area().x(d=>bx(d[0])).y0(382).y1(d=>bY(d[1])).curve(d3.curveMonotoneX));
  svg.append("path").datum(mean).attr("fill","none").attr("stroke","#111").attr("stroke-width",1.6).attr("stroke-dasharray","5,3")
    .attr("d",d3.line().x(d=>bx(d[0])).y(d=>bY(d[1])).curve(d3.curveMonotoneX));
  txt((x0+x1)/2,239,title,15,"middle");
  txt(x1-9,377,"n="+bCounts[p],16,"end",t=>t.style("fill","#fff"));
});
aTicks.forEach(v=>txt(99,bY(v)+5.5,v,16,"end"));
txt(0,0,"length (µm)",17,"middle",t=>t.attr("transform",`translate(66,${bY(6)}) rotate(-90)`));
letter(1,246,"b");

// ---- Panel c ----
const cX=d3.scaleLinear().domain([0,11]).range([85,338]);
const cY=d3.scaleLinear().domain([0,4]).range([718,471]);
const cCols=["#1f72b0","#b0200e"];
bg(85,471,338,718); bg(85,419,338,461); bg(343,471,388,718);
vgrid(cX,[2,4,6,8,10],471,718); hgrid(cY,[1,2,3],85,338);
vgrid(cX,[2,4,6,8,10],419,461); hgrid(cY,[1,2,3],343,388);
[[cMulti,1],[cTriple,0]].forEach(([pts,k])=>{
  svg.append("g").selectAll(null).data(pts).join("circle").attr("cx",d=>cX(d[0])).attr("cy",d=>cY(d[1])).attr("r",2.8).attr("fill",cCols[k]);
});
const cTopY=d3.scaleLinear().domain([0,1]).range([461,423]);
const cSideX=d3.scaleLinear().domain([0,1]).range([343,386]);
[[cTopTriple,0],[cTopMulti,1]].forEach(([kd,k])=>svg.append("path").datum(kd).attr("fill","none").attr("stroke",cCols[k]).attr("stroke-width",1.4)
  .attr("d",d3.line().x(d=>cX(d[0])).y(d=>cTopY(d[1])).curve(d3.curveMonotoneX)));
[[cSideTriple,0],[cSideMulti,1]].forEach(([kd,k])=>svg.append("path").datum(kd.slice().sort((a,b)=>b[0]-a[0])).attr("fill","none").attr("stroke",cCols[k]).attr("stroke-width",1.4)
  .attr("d",d3.line().x(d=>cSideX(d[1])).y(d=>cY(d[0])).curve(d3.curveMonotoneY)));
[0,1,2,3,4].forEach(v=>txt(78,cY(v)+5,v,15,"end"));
[0,2,4,6,8,10].forEach(v=>txt(cX(v),736,v,15,"middle"));
txt(cX(5.5),755,"basal fragment (µm)",17,"middle");
txt(0,0,"apical fragment (µm)",17,"middle",t=>t.attr("transform",`translate(61,${cY(2)}) rotate(-90)`));
txt(289,493,"labeling",14.5,"middle");
cLabels.forEach((lab,k)=>{
  const y=507+k*19;
  svg.append("line").attr("x1",255).attr("x2",283).attr("y1",y).attr("y2",y).attr("stroke",cCols[k]).attr("stroke-width",2.2);
  txt(294,y+5,lab,14.5,"start");
});
letter(3,423,"c");

// ---- Panel d ----
const dX=d3.scaleLinear().domain([0,11]).range([478,726]);
const dY=d3.scaleLinear().domain([0,8]).range([713,470]);
const dCols=["#159e74","#1b6db2","#d3641c","#9a52aa","#5aade1"];
const dLines=[dLine30,dLine60,dLine90,dLine120,dLine150];
const dOuts=[dOut30,dOut60,dOut90,dOut120,dOut150];
const dFits=[dFit30,dFit60,dFit90,dFit120,dFit150];
const dTops=[dTop30,dTop60,dTop90,dTop120,dTop150];
const dSides=[dSide30,dSide60,dSide90,dSide120,dSide150];
bg(478,470,726,713); bg(478,418,726,460); bg(735,470,778,713);
vgrid(dX,[2,4,6,8,10],470,713); hgrid(dY,[1,2,3,4,5,6,7],478,726);
vgrid(dX,[2,4,6,8,10],418,460); hgrid(dY,[1,2,3,4,5,6,7],735,778);
const dTopY=d3.scaleLinear().domain([0,1]).range([460,419]);
const dSideX=d3.scaleLinear().domain([0,1]).range([735,778]);
dTimes.forEach((t,k)=>{
  svg.append("path").datum(dLines[k]).attr("fill","none").attr("stroke",dCols[k]).attr("stroke-width",4.6).attr("stroke-linejoin","round").attr("stroke-linecap","round")
    .attr("d",d3.line().x(d=>dX(d[0])).y(d=>dY(d[1])).curve(d3.curveCatmullRom));
  svg.append("g").selectAll(null).data(dLines[k].concat(dOuts[k])).join("circle").attr("cx",d=>dX(d[0])).attr("cy",d=>dY(d[1])).attr("r",2.7).attr("fill",dCols[k]);
  svg.append("path").datum(dTops[k]).attr("fill","none").attr("stroke",dCols[k]).attr("stroke-width",1.4)
    .attr("d",d3.line().x(d=>dX(d[0])).y(d=>dTopY(d[1])).curve(d3.curveMonotoneX));
  svg.append("path").datum(dSides[k].slice().sort((a,b)=>b[0]-a[0])).attr("fill","none").attr("stroke",dCols[k]).attr("stroke-width",1.4)
    .attr("d",d3.line().x(d=>dSideX(d[1])).y(d=>dY(d[0])).curve(d3.curveMonotoneY));
});
dFits.forEach(f=>svg.append("path").datum(f).attr("fill","none").attr("stroke","#111").attr("stroke-width",1.6).attr("stroke-dasharray","5,3")
  .attr("d",d3.line().x(d=>dX(d[0])).y(d=>dY(d[1])).curve(d3.curveMonotoneX)));
[0,1,2,3,4,5,6,7,8].forEach(v=>txt(471,dY(v)+6,v,18,"end"));
[0,2,4,6,8,10].forEach(v=>txt(dX(v),734,v,18,"middle"));
txt(dX(5.5),755,"basal fragment (µm)",18.5,"middle");
txt(0,0,"apical fragment (µm)",18.5,"middle",t=>t.attr("transform",`translate(450,${dY(4)}) rotate(-90)`));
txt(650,491.5,"Elongation",14,"start");
txt(650,506,"time (min)",14,"start");
dTimes.forEach((t,k)=>{
  const y=519+k*19.3;
  svg.append("line").attr("x1",650).attr("x2",680).attr("y1",y).attr("y2",y).attr("stroke",dCols[k]).attr("stroke-width",2.6);
  txt(690,y+5.5,t,15.5,"start");
});
letter(424,425,"d");
</script></body></html>
